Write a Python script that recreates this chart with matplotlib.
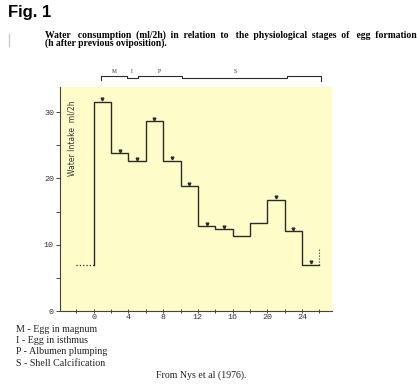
import matplotlib
matplotlib.use("Agg")
import matplotlib.pyplot as plt
from matplotlib.lines import Line2D

# water intake (ml/2h) for each 2-hour interval after previous oviposition
hour_edges = [0, 2, 4, 6, 8, 10, 12, 14, 16, 18, 20, 22, 24, 26]
intake = [31.6, 23.8, 22.6, 28.6, 22.7, 18.8, 12.8, 12.3, 11.3, 13.3, 16.8, 12.0, 7.0]
has_mark = [1, 1, 1, 1, 1, 1, 1, 1, 0, 0, 1, 1, 1]
pre_hours = [-2, 0]
pre_intake = 7.0
end_intake = 9.5

# physiological stages (hours)
stage_edges = [0.85, 3.8, 5.05, 10.2, 22.3, 26.2]
stage_level = [1, 0, 1, 0, 1]
stage_labels = ["M", "I", "P", "S", ""]

legend_lines = ["M - Egg in magnum", "I - Egg in isthmus",
                "P - Albumen plumping", "S - Shell Calcification"]

W, H = 417, 388
fig = plt.figure(figsize=(W / 100, H / 100), dpi=100)
ax = fig.add_axes([59.5 / W, 1 - 311 / H, (332 - 59.5) / W, 224 / H])
ax.set_facecolor("#fefcc8")
ax.set_xlim(-3.94, 27.45)
ax.set_ylim(0, 33.8)

ink = "#2b2b2b"
# step line
xs = [hour_edges[0]]
ys = [pre_intake]
for i, v in enumerate(intake):
    xs += [hour_edges[i], hour_edges[i + 1]]
    ys += [v, v]
ax.plot(xs, ys, color=ink, lw=1.0, solid_joinstyle="miter")
ax.plot(pre_hours, [pre_intake, pre_intake], color=ink, lw=0.9, ls=":")
ax.plot([hour_edges[-1], hour_edges[-1]], [intake[-1], end_intake], color=ink, lw=0.8, ls=":")

# small marks above steps
mx = [(hour_edges[i] + hour_edges[i + 1]) / 2 for i in range(len(intake)) if has_mark[i]]
my = [intake[i] + 0.4 for i in range(len(intake)) if has_mark[i]]
ax.plot(mx, my, ls="none", marker="v", ms=2.0, color=ink)

# axes styling
for s in ["top", "right"]:
    ax.spines[s].set_visible(False)
for s in ["left", "bottom"]:
    ax.spines[s].set_color("#444444")
    ax.spines[s].set_linewidth(0.8)
ax.set_yticks([0, 10, 20, 30])
ax.set_yticks([5, 15, 25], minor=True)
ax.set_xticks([0, 4, 8, 12, 16, 20, 24])
ax.set_xticks([-2, 2, 6, 10, 14, 18, 22, 26], minor=True)
ax.tick_params(axis="y", which="both", length=3, width=0.7, pad=1, color="#444444",
               labelsize=6)
ax.tick_params(axis="x", which="both", direction="inout", length=3, width=0.7, pad=1,
               color="#444444", labelsize=6)
for lab in ax.get_xticklabels() + ax.get_yticklabels():
    lab.set_family("Liberation Mono")
    lab.set_color("#333333")

ax.text(-2.55, 26.1, "Water Intake  ml/2h", rotation=90, ha="center", va="center",
        fontsize=5.5, color="#333333")

# stage bar above the plot
tr = ax.get_xaxis_transform()
hi, lo = 1.050, 1.039
px, py = [stage_edges[0], stage_edges[0]], [1.031, hi if stage_level[0] else lo]
for i, lev in enumerate(stage_level):
    yv = hi if lev else lo
    px += [stage_edges[i], stage_edges[i + 1]]
    py += [yv, yv]
px += [stage_edges[-1]]
py += [1.028]
ax.plot(px, py, color=ink, lw=0.8, transform=tr, clip_on=False)
for i, lab in enumerate(stage_labels):
    if lab:
        cx = (stage_edges[i] + stage_edges[i + 1]) / 2
        ax.text(cx, 1.068, lab, transform=tr, ha="center", va="center",
                fontsize=4, family="Liberation Serif", color=ink)

# header texts
fig.text(8 / W, 1 - 13 / H, "Fig. 1", fontsize=12, fontweight="bold",
         family="Liberation Sans", va="center", ha="left")
fig.text(45 / W, 1 - 35 / H,
         "Water   consumption  (ml/2h)  in  relation  to   the  physiological  stages  of   egg  formation",
         fontsize=6.9, fontweight="bold", family="Liberation Serif", va="center", ha="left")
fig.text(45 / W, 1 - 43.5 / H, "(h after previous oviposition).",
         fontsize=6.9, fontweight="bold", family="Liberation Serif", va="center", ha="left")
fig.add_artist(Line2D([8.5 / W, 8.5 / W], [1 - 34 / H, 1 - 46 / H], color="#cccccc", lw=1))

for i, t in enumerate(legend_lines):
    fig.text(15.5 / W, 1 - (329 + i * 11.4) / H, t, fontsize=7.2,
             family="Liberation Serif", va="center", ha="left", color="#222222")
fig.text(156 / W, 1 - 375.5 / H, "From Nys et al (1976).", fontsize=7.1,
         family="Liberation Serif", va="center", ha="left", color="#222222")

fig.savefig("out.png", dpi=100)
